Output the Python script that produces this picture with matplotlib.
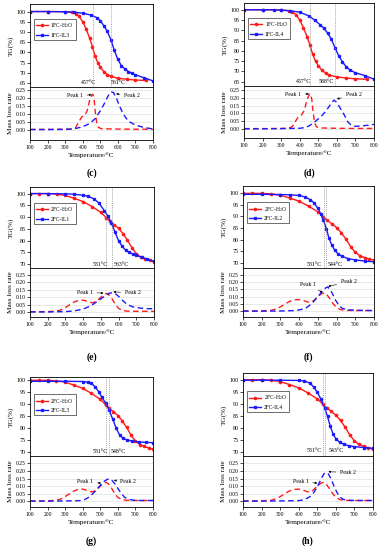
import matplotlib
matplotlib.use("Agg")
import matplotlib.pyplot as plt

plt.rcParams.update({
    "font.family": "Liberation Serif",
    "mathtext.fontset": "custom",
    "mathtext.rm": "Liberation Serif",
    "font.size": 5,
    "axes.linewidth": 0.6,
    "xtick.major.width": 0.5,
    "ytick.major.width": 0.5,
    "xtick.major.size": 2,
    "ytick.major.size": 2,
    "xtick.major.pad": 1.5,
    "ytick.major.pad": 1.2,
})

W, H = 381, 550

# ---------------- data ----------------

# 1FC-H2O, shared by (c) and (d)
t_1h2o_tg = [100, 200, 300, 340, 360, 380, 400, 420, 440, 455, 470, 485, 500, 520, 540, 560, 600, 650, 700, 760]
tg_1h2o = [100, 100, 99.9, 99.6, 99.0, 97.6, 95.0, 91.3, 86.8, 82.8, 78.3, 75.0, 72.8, 70.5, 69.1, 68.2, 67.3, 66.8, 66.4, 66.2]
t_1h2o_mlr = [100, 200, 300, 340, 360, 380, 395, 410, 425, 440, 452, 458, 465, 472, 480, 490, 505, 550, 600, 700, 800]
mlr_1h2o = [0.003, 0.003, 0.004, 0.006, 0.015, 0.055, 0.082, 0.09, 0.12, 0.19, 0.222, 0.225, 0.19, 0.11, 0.04, 0.015, 0.008, 0.006, 0.005, 0.004, 0.004]

# 1FC-IL3 (c)
t_il3c_tg = [100, 200, 300, 350, 400, 450, 480, 500, 520, 540, 560, 580, 600, 620, 640, 660, 680, 700, 750, 800]
tg_il3c = [100, 100, 99.9, 99.7, 99.2, 98.2, 97.0, 95.5, 93.0, 90.3, 86.2, 81.0, 76.5, 73.5, 71.8, 70.6, 69.7, 69.0, 67.5, 66.0]
t_il3c_mlr = [100, 200, 300, 350, 400, 440, 470, 500, 520, 540, 555, 565, 575, 590, 610, 630, 660, 700, 750, 800]
mlr_il3c = [0.002, 0.002, 0.003, 0.006, 0.02, 0.04, 0.07, 0.12, 0.16, 0.205, 0.235, 0.24, 0.235, 0.205, 0.15, 0.1, 0.055, 0.03, 0.015, 0.006]

# 1FC-IL4 (d)
t_il4d_tg = [100, 200, 260, 300, 350, 400, 450, 480, 510, 530, 550, 570, 590, 610, 630, 650, 670, 700, 750, 800]
tg_il4d = [100, 100, 100, 99.8, 99.5, 98.8, 97.0, 95.0, 92.7, 91.0, 88.7, 85.8, 81.5, 77.6, 74.6, 72.3, 70.7, 69.3, 68.0, 66.2]
t_il4d_mlr = [100, 200, 300, 400, 430, 450, 470, 490, 510, 530, 550, 570, 585, 600, 620, 640, 660, 680, 700, 750, 800]
mlr_il4d = [0.002, 0.002, 0.003, 0.005, 0.01, 0.02, 0.035, 0.055, 0.075, 0.1, 0.13, 0.165, 0.185, 0.17, 0.13, 0.09, 0.045, 0.022, 0.017, 0.022, 0.03]

# 2FC-H2O, shared by (e)-(h)
t_2h2o_tg = [100, 150, 200, 250, 300, 350, 400, 450, 500, 530, 550, 575, 600, 625, 650, 675, 700, 725, 750, 775, 800]
tg_2h2o = [100, 100, 100, 99.8, 99.2, 98.0, 96.6, 94.5, 92.0, 89.8, 88.3, 86.8, 85.2, 83.0, 80.2, 77.0, 74.5, 73.0, 72.2, 71.6, 71.1]
t_2h2o_mlr = [100, 200, 250, 275, 300, 325, 350, 375, 400, 425, 450, 475, 500, 520, 535, 550, 565, 580, 600, 625, 650, 700, 800]
mlr_2h2o = [0.002, 0.003, 0.006, 0.015, 0.03, 0.05, 0.068, 0.078, 0.08, 0.072, 0.062, 0.07, 0.1, 0.12, 0.125, 0.11, 0.085, 0.055, 0.025, 0.01, 0.006, 0.005, 0.005]

# 2FC-IL1 (e)
t_il1_tg = [100, 200, 300, 350, 400, 430, 460, 490, 520, 540, 560, 580, 600, 620, 640, 660, 680, 700, 730, 760, 800]
tg_il1 = [100, 100, 99.9, 99.7, 99.3, 98.8, 97.8, 95.9, 92.7, 90.4, 87.4, 83.6, 80.0, 77.6, 76.0, 75.0, 74.4, 73.8, 73.0, 72.2, 71.2]
t_il1_mlr = [100, 200, 300, 350, 400, 430, 460, 490, 520, 545, 565, 585, 605, 625, 650, 680, 720, 760, 800]
mlr_il1 = [0.001, 0.001, 0.003, 0.008, 0.02, 0.035, 0.055, 0.08, 0.105, 0.125, 0.13, 0.12, 0.1, 0.075, 0.05, 0.035, 0.027, 0.023, 0.022]

# 2FC-IL2 (f)
t_il2_tg = [100, 200, 300, 350, 400, 430, 460, 480, 500, 515, 530, 545, 560, 575, 590, 610, 630, 660, 700, 750, 800]
tg_il2 = [99.6, 99.6, 99.5, 99.4, 99.1, 98.5, 97.3, 95.8, 93.5, 91.2, 88.3, 84.8, 80.5, 77.5, 75.4, 73.7, 72.7, 71.8, 71.2, 70.7, 70.4]
t_il2_mlr = [100, 200, 300, 380, 410, 440, 470, 500, 520, 540, 552, 565, 580, 595, 610, 630, 660, 700, 800]
mlr_il2 = [0.001, 0.001, 0.002, 0.005, 0.012, 0.025, 0.055, 0.1, 0.13, 0.158, 0.166, 0.15, 0.115, 0.075, 0.045, 0.02, 0.01, 0.007, 0.005]

# 2FC-IL3 (g)
t_il3g_tg = [100, 200, 300, 400, 430, 450, 470, 490, 510, 530, 550, 570, 590, 610, 630, 650, 680, 720, 760, 800]
tg_il3g = [99.6, 99.6, 99.6, 99.5, 99.2, 98.7, 97.3, 95.3, 92.8, 90.5, 87.6, 83.8, 80.0, 77.0, 75.6, 75.0, 74.5, 74.1, 73.9, 73.8]
t_il3g_mlr = [100, 200, 300, 380, 410, 440, 470, 500, 520, 540, 552, 565, 580, 600, 620, 640, 660, 690, 730, 800]
mlr_il3g = [0.001, 0.001, 0.002, 0.004, 0.01, 0.03, 0.065, 0.105, 0.13, 0.145, 0.148, 0.14, 0.12, 0.085, 0.05, 0.025, 0.012, 0.007, 0.005, 0.005]

# 2FC-IL4 (h)
t_il4h_tg = [100, 200, 300, 400, 430, 460, 480, 500, 520, 540, 555, 570, 585, 600, 620, 645, 670, 700, 750, 800]
tg_il4h = [99.8, 99.8, 99.8, 99.7, 99.5, 98.6, 97.0, 94.8, 91.8, 88.2, 84.7, 80.6, 77.3, 75.4, 74.0, 73.0, 72.5, 72.1, 71.7, 71.4]
t_il4h_mlr = [100, 200, 300, 400, 430, 460, 480, 500, 520, 535, 548, 560, 575, 590, 605, 620, 640, 670, 720, 800]
mlr_il4h = [0.001, 0.001, 0.002, 0.004, 0.01, 0.03, 0.055, 0.095, 0.145, 0.18, 0.19, 0.18, 0.145, 0.1, 0.06, 0.03, 0.012, 0.006, 0.005, 0.005]

panel_labels = ["(c)", "(d)", "(e)", "(f)", "(g)", "(h)"]
red_names = ["1FC-H$_2$O", "1FC-H$_2$O", "2FC-H$_2$O", "2FC-H$_2$O", "2FC-H$_2$O", "2FC-H$_2$O"]
blue_names = ["1FC-IL3", "1FC-IL4", "2FC-IL1", "2FC-IL2", "2FC-IL3", "2FC-IL4"]
peak_temps = [(457, 561), (457, 588), (531, 563), (531, 544), (531, 548), (531, 543)]

# ---------------- layout ----------------

RED = "#ff1a1a"
BLUE = "#1a1aff"


def box(x0, y0, x1, y1):
    return [x0 / W, 1 - y1 / H, (x1 - x0) / W, (y1 - y0) / H]


# per panel: x0, x1, top, split, bottom, label y
geom = [
    (30, 153, 4, 87, 140, 173),
    (244, 374, 3, 86, 138, 173),
    (30, 154, 187, 268, 317, 357),
    (243, 374, 186, 268, 317, 357),
    (30, 153, 377, 456, 507, 541),
    (243, 373, 373, 456, 507, 541),
]
tg_lims = [(63.0, 103.7), (62.9, 103.3), (68.4, 102.8), (67.7, 103.2), (68.2, 101.4), (68.2, 102.8)]
mlr_lims = [(-0.064, 0.271), (-0.057, 0.275), (-0.033, 0.295), (-0.039, 0.295), (-0.038, 0.299), (-0.038, 0.299)]
leg_y = [0.82, 0.82, 0.80, 0.80, 0.78, 0.78]
temp_lab = [((436, 600), 65.3), ((420, 545), 65.0), ((498, 615), 70.0),
            ((480, 590), 69.2), ((498, 605), 70.3), ((485, 600), 70.3)]
# (text x, text y, tip x, tip y) for Peak 1 and Peak 2
peak1 = [(355, 0.215, 450, 0.222), (365, 0.218, 450, 0.225), (410, 0.132, 515, 0.127),
         (445, 0.185, 525, 0.128), (415, 0.128, 505, 0.12), (410, 0.128, 500, 0.12)]
peak2 = [(680, 0.215, 590, 0.228), (690, 0.218, 600, 0.192), (680, 0.13, 570, 0.135),
         (665, 0.2, 555, 0.17), (660, 0.128, 578, 0.138), (665, 0.19, 560, 0.195)]

series = [
    (t_1h2o_tg, tg_1h2o, t_il3c_tg, tg_il3c, t_1h2o_mlr, mlr_1h2o, t_il3c_mlr, mlr_il3c),
    (t_1h2o_tg, tg_1h2o, t_il4d_tg, tg_il4d, t_1h2o_mlr, mlr_1h2o, t_il4d_mlr, mlr_il4d),
    (t_2h2o_tg, tg_2h2o, t_il1_tg, tg_il1, t_2h2o_mlr, mlr_2h2o, t_il1_mlr, mlr_il1),
    (t_2h2o_tg, tg_2h2o, t_il2_tg, tg_il2, t_2h2o_mlr, mlr_2h2o, t_il2_mlr, mlr_il2),
    (t_2h2o_tg, tg_2h2o, t_il3g_tg, tg_il3g, t_2h2o_mlr, mlr_2h2o, t_il3g_mlr, mlr_il3g),
    (t_2h2o_tg, tg_2h2o, t_il4h_tg, tg_il4h, t_2h2o_mlr, mlr_2h2o, t_il4h_mlr, mlr_il4h),
]

fig = plt.figure(figsize=(W / 100, H / 100), dpi=100)

for i in range(6):
    x0, x1, top, split, bottom, lab_y = geom[i]
    rt, rv, bt, bv, rmt, rmv, bmt, bmv = series[i]

    # ---- TG ----
    ax1 = fig.add_axes(box(x0, top, x1, split))
    ax1.plot(rt, rv, color=RED, lw=1.0, marker="o", ms=1.6, label=red_names[i])
    ax1.plot(bt, bv, color=BLUE, lw=1.0, marker="s", ms=1.4, label=blue_names[i])
    for tp in peak_temps[i]:
        ax1.axvline(tp, color="#888888", lw=0.5, ls=(0, (1.5, 1.5)))
    (lx1, lx2), ly = temp_lab[i]
    ax1.text(lx1, ly, f"{peak_temps[i][0]}°C", fontsize=4.2, ha="center", va="center")
    ax1.text(lx2, ly, f"{peak_temps[i][1]}°C", fontsize=4.2, ha="center", va="center")
    ax1.set_xlim(100, 800)
    ax1.set_ylim(*tg_lims[i])
    lo = 65 if tg_lims[i][0] < 65 else 70
    ax1.set_yticks(list(range(lo, 101, 5)))
    ax1.set_xticks([])
    ax1.tick_params(labelsize=4.3)
    ax1.set_ylabel("TG(%)", fontsize=5.2, labelpad=1.5)
    leg = ax1.legend(loc="upper left", bbox_to_anchor=(0.03, leg_y[i]), fontsize=4.0,
                     frameon=True, fancybox=False, edgecolor="black", handlelength=2.2,
                     handletextpad=0.4, borderpad=0.4, labelspacing=0.45, borderaxespad=0)
    leg.get_frame().set_linewidth(0.5)

    # ---- mass loss rate ----
    ax2 = fig.add_axes(box(x0, split, x1, bottom))
    ax2.yaxis.grid(True, color="#d9d9d9", lw=0.4)
    ax2.set_axisbelow(True)
    ax2.plot(rmt, rmv, color=RED, lw=1.0, ls=(0, (4, 2.5)))
    ax2.plot(bmt, bmv, color=BLUE, lw=1.0, ls=(0, (4, 2.5)))
    ax2.set_xlim(100, 800)
    ax2.set_ylim(*mlr_lims[i])
    ax2.set_xticks(list(range(100, 801, 100)))
    ax2.set_yticks([0, 0.05, 0.10, 0.15, 0.20, 0.25])
    ax2.set_yticklabels(["0.00", "0.05", "0.10", "0.15", "0.20", "0.25"])
    ax2.tick_params(labelsize=4.1)
    ax2.set_ylabel("Mass loss rate", fontsize=5.2, labelpad=1.5)
    ax2.set_xlabel("Temperature/°C", fontsize=5.2, labelpad=1.5)

    for name, (tx, ty, px, py) in (("Peak 1", peak1[i]), ("Peak 2", peak2[i])):
        ax2.annotate(name, xy=(px, py), xytext=(tx, ty), fontsize=4.2,
                     ha="center", va="center",
                     arrowprops=dict(arrowstyle="-|>", lw=0.4, color="black",
                                     mutation_scale=3, shrinkA=1, shrinkB=0))

    fig.text((x0 + x1) / 2 / W, 1 - lab_y / H, panel_labels[i], fontsize=7,
             fontweight="bold", ha="center", va="center")

fig.savefig("out.png", dpi=100)
